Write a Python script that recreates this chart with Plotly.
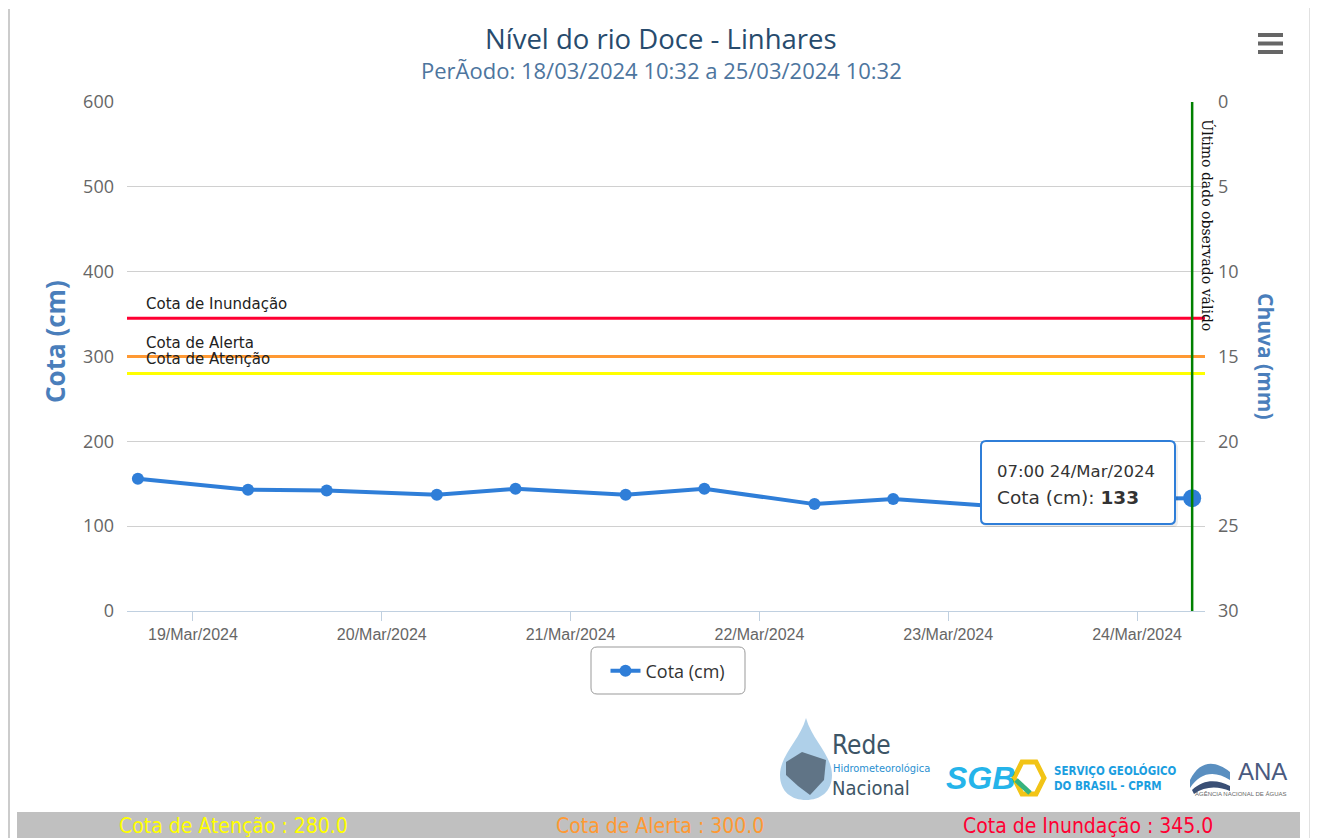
import plotly.graph_objects as go

# ---------------- data ----------------
times = ["2024-03-18 17:00", "2024-03-19 07:00", "2024-03-19 17:00", "2024-03-20 07:00",
         "2024-03-20 17:00", "2024-03-21 07:00", "2024-03-21 17:00", "2024-03-22 07:00",
         "2024-03-22 17:00", "2024-03-23 07:00", "2024-03-23 17:00", "2024-03-24 07:00"]
cota = [156, 143, 142, 137, 144, 137, 144, 126, 132, 123, 132, 133]

tick_dates = ["2024-03-19", "2024-03-20", "2024-03-21", "2024-03-22", "2024-03-23", "2024-03-24"]
x_range = ["2024-03-18 15:37", "2024-03-24 08:38"]

threshold_names = ["Cota de Inundação", "Cota de Alerta", "Cota de Atenção"]
threshold_values = [345.0, 300.0, 280.0]
threshold_colors = ["#ff0033", "#ff9933", "#ffff00"]

ultimo_dado = "2024-03-24 07:00"
tooltip_time = "07:00 24/Mar/2024"

title = "Nível do rio Doce - Linhares"
subtitle = "PerÃodo: 18/03/2024 10:32 a 25/03/2024 10:32"

# ---------------- layout geometry ----------------
# page body has an 8px margin, so the figure is 8px smaller and all reference
# pixel positions are expressed in page coordinates through px()/py().
W, H = 1310, 830
L, R, T, B = 119, 113, 94, 227
PW, PH = W - L - R, H - T - B
OFF = 8


def px(x):
    return (x - OFF - L) / PW


def py(y):
    return (H - B - (y - OFF)) / PH


def rrect(x0, y0, x1, y1, r):
    rx, ry = r / PW, r / PH
    a, b, c, d = px(x0), px(x1), py(y0), py(y1)  # c top, d bottom
    return (f"M {a+rx} {c} L {b-rx} {c} Q {b} {c} {b} {c-ry} L {b} {d+ry} Q {b} {d} {b-rx} {d} "
            f"L {a+rx} {d} Q {a} {d} {a} {d+ry} L {a} {c-ry} Q {a} {c} {a+rx} {c} Z")


BLUE = "#2f7ed8"
AXT = "#4a7ebb"
COND = "DejaVu Sans Condensed, Liberation Sans Narrow, Roboto, sans-serif"

fig = go.Figure()

fig.add_trace(go.Scatter(
    x=times, y=cota, mode="lines+markers", name="Cota (cm)",
    line=dict(color=BLUE, width=4), marker=dict(color=BLUE, size=12),
    hoverinfo="skip"))
fig.add_trace(go.Scatter(
    x=[times[-1]], y=[cota[-1]], mode="markers", showlegend=False,
    marker=dict(color=BLUE, size=18), hoverinfo="skip"))
# rain axis (no data in the period)
fig.add_trace(go.Scatter(x=[times[0]], y=[None], yaxis="y2", showlegend=False,
                         hoverinfo="skip", mode="markers"))

shapes = []
annotations = []

# threshold lines + labels
for name, val, col in zip(threshold_names, threshold_values, threshold_colors):
    shapes.append(dict(type="line", xref="paper", x0=0, x1=1, yref="y", y0=val, y1=val,
                       line=dict(color=col, width=3), layer="above"))
    annotations.append(dict(xref="paper", x=px(144), yref="y", y=val, text=name,
                            showarrow=False, xanchor="left", yanchor="bottom", yshift=3,
                            font=dict(family="DejaVu Sans", size=15, color="#222")))

# last valid observation line
shapes.append(dict(type="line", xref="x", x0=ultimo_dado, x1=ultimo_dado, yref="paper",
                   y0=0, y1=1, line=dict(color="#008000", width=2.5), layer="above"))
annotations.append(dict(xref="x", x=ultimo_dado, yref="paper", y=py(117),
                        text="Último dado observado válido", textangle=90, showarrow=False,
                        xanchor="left", yanchor="top", xshift=5,
                        font=dict(family="DejaVu Serif", size=14, color="#111")))

# titles
annotations.append(dict(xref="paper", x=px(661), yref="paper", y=py(39), text=title,
                        showarrow=False, xanchor="center", yanchor="middle",
                        font=dict(family="Open Sans", size=27.5, color="#274b6d")))
annotations.append(dict(xref="paper", x=px(661), yref="paper", y=py(70), text=subtitle,
                        showarrow=False, xanchor="center", yanchor="middle",
                        font=dict(family="Open Sans", size=22, color="#4d759e")))
# cut heading at very top (only its lower part is visible)
annotations.append(dict(xref="paper", x=px(45), yref="paper", y=py(-2),
                        text="<b>b.  Nível do Rio Doce - Linhares</b>",
                        showarrow=False, xanchor="left", yanchor="middle",
                        font=dict(family="Liberation Sans", size=26, color="#111")))

# axis titles
annotations.append(dict(xref="paper", x=px(55), yref="paper", y=py(342), text="<b>Cota (cm)</b>",
                        textangle=-90, showarrow=False, xanchor="center", yanchor="middle",
                        font=dict(family="Open Sans", size=26, color=AXT)))
annotations.append(dict(xref="paper", x=px(1266), yref="paper", y=py(356), text="<b>Chuva (mm)</b>",
                        textangle=90, showarrow=False, xanchor="center", yanchor="middle",
                        font=dict(family="Open Sans", size=21, color=AXT)))

# tooltip box (rounded, with soft shadow) + text anchored to the last point
shapes.append(dict(type="path", xref="paper", yref="paper", path=rrect(983, 443, 1178, 527, 5),
                   fillcolor="rgba(0,0,0,0.07)", line=dict(width=0), layer="above"))
shapes.append(dict(type="path", xref="paper", yref="paper", path=rrect(981, 441, 1175, 524, 5),
                   fillcolor="white", line=dict(color=BLUE, width=2), layer="above"))
annotations.append(dict(xref="x", x=times[-1], yref="y", y=cota[-1], text=tooltip_time,
                        showarrow=False, xanchor="left", yanchor="middle", xshift=-197, yshift=27,
                        font=dict(family="DejaVu Sans", size=16.5, color="#333")))
annotations.append(dict(xref="x", x=times[-1], yref="y", y=cota[-1],
                        text="Cota (cm): <b>" + str(cota[-1]) + "</b>",
                        showarrow=False, xanchor="left", yanchor="middle", xshift=-197, yshift=1,
                        font=dict(family="DejaVu Sans", size=18.5, color="#333")))

# legend frame (rounded)
shapes.append(dict(type="path", xref="paper", yref="paper", path=rrect(591, 647, 745, 694, 6),
                   fillcolor="rgba(0,0,0,0)", line=dict(color="#999999", width=1)))

# hamburger menu
for yb in (35, 43.5, 52):
    shapes.append(dict(type="line", xref="paper", yref="paper", x0=px(1258), x1=px(1283),
                       y0=py(yb), y1=py(yb), line=dict(color="#666", width=4)))

# card borders
shapes.append(dict(type="line", xref="paper", yref="paper", x0=px(9), x1=px(9),
                   y0=py(9), y1=py(840), line=dict(color="#cccccc", width=2)))
shapes.append(dict(type="line", xref="paper", yref="paper", x0=px(1311), x1=px(1311),
                   y0=py(8), y1=py(840), line=dict(color="#c4c4c4", width=3)))

# bottom band
shapes.append(dict(type="rect", xref="paper", yref="paper", x0=px(17), x1=px(1300),
                   y0=py(812), y1=py(840), fillcolor="#c0c0c0", line=dict(width=0)))
band_centers = [1088, 660, 233]
for name, val, col, cx in zip(threshold_names, threshold_values, threshold_colors, band_centers):
    annotations.append(dict(xref="paper", x=px(cx), yref="paper", y=py(826),
                            text=f"{name} : {val:.1f}", showarrow=False,
                            xanchor="center", yanchor="middle",
                            font=dict(family=COND, size=21, color=col)))

# ---- logos (approximations) ----
drop = (f"M {px(806)} {py(718)} C {px(800)} {py(740)}, {px(780)} {py(755)}, {px(780)} {py(775)} "
        f"C {px(780)} {py(792)}, {px(792)} {py(800)}, {px(806)} {py(800)} "
        f"C {px(820)} {py(800)}, {px(832)} {py(792)}, {px(832)} {py(775)} "
        f"C {px(832)} {py(755)}, {px(812)} {py(740)}, {px(806)} {py(718)} Z")
shapes.append(dict(type="path", xref="paper", yref="paper", path=drop,
                   fillcolor="rgba(110,170,215,0.55)", line=dict(width=0)))
brasil = (f"M {px(786)} {py(762)} L {px(802)} {py(752)} L {px(826)} {py(760)} L {px(824)} {py(780)} "
          f"L {px(810)} {py(795)} L {px(798)} {py(786)} L {px(786)} {py(775)} Z")
shapes.append(dict(type="path", xref="paper", yref="paper", path=brasil,
                   fillcolor="rgba(70,85,100,0.75)", line=dict(width=0)))
annotations.append(dict(xref="paper", x=px(830), yref="paper", y=py(745), text="Rede",
                        showarrow=False, xanchor="left", yanchor="middle",
                        font=dict(family=COND, size=26, color="#3d5566")))
annotations.append(dict(xref="paper", x=px(831), yref="paper", y=py(768), text="Hidrometeorológica",
                        showarrow=False, xanchor="left", yanchor="middle",
                        font=dict(family=COND, size=11, color="#2a8fd0")))
annotations.append(dict(xref="paper", x=px(830), yref="paper", y=py(788), text="Nacional",
                        showarrow=False, xanchor="left", yanchor="middle",
                        font=dict(family=COND, size=20, color="#3d5566")))
# SGB
annotations.append(dict(xref="paper", x=px(944), yref="paper", y=py(778), text="<b><i>SGB</i></b>",
                        showarrow=False, xanchor="left", yanchor="middle",
                        font=dict(family="Liberation Sans", size=32, color="#25b4ea")))
hexa = (f"M {px(1022)} {py(762)} L {px(1036)} {py(762)} L {px(1044)} {py(778)} "
        f"L {px(1036)} {py(794)} L {px(1022)} {py(794)} L {px(1014)} {py(778)} Z")
shapes.append(dict(type="path", xref="paper", yref="paper", path=hexa,
                   fillcolor="rgba(0,0,0,0)", line=dict(color="#f2c416", width=5)))
shapes.append(dict(type="line", xref="paper", yref="paper", x0=px(1016), x1=px(1030),
                   y0=py(780), y1=py(793), line=dict(color="#36b37e", width=5)))
annotations.append(dict(xref="paper", x=px(1052), yref="paper", y=py(778),
                        text="<b>SERVIÇO GEOLÓGICO<br>DO BRASIL - CPRM</b>",
                        showarrow=False, xanchor="left", yanchor="middle", align="left",
                        font=dict(family=COND, size=11.5, color="#1b9ee0")))
# ANA
wave1 = (f"M {px(1190)} {py(780)} C {px(1200)} {py(760)}, {px(1215)} {py(760)}, {px(1230)} {py(772)} "
         f"L {px(1230)} {py(780)} C {px(1215)} {py(770)}, {px(1200)} {py(772)}, {px(1190)} {py(788)} Z")
shapes.append(dict(type="path", xref="paper", yref="paper", path=wave1,
                   fillcolor="#5a8fc0", line=dict(width=0)))
wave2 = (f"M {px(1192)} {py(790)} C {px(1205)} {py(778)}, {px(1218)} {py(780)}, {px(1230)} {py(786)} "
         f"L {px(1230)} {py(791)} C {px(1218)} {py(786)}, {px(1205)} {py(786)}, {px(1194)} {py(794)} Z")
shapes.append(dict(type="path", xref="paper", yref="paper", path=wave2,
                   fillcolor="#3a4f75", line=dict(width=0)))
annotations.append(dict(xref="paper", x=px(1236), yref="paper", y=py(771), text="ANA",
                        showarrow=False, xanchor="left", yanchor="middle",
                        font=dict(family="Liberation Sans", size=24, color="#4a5a80")))
annotations.append(dict(xref="paper", x=px(1240), yref="paper", y=py(793),
                        text="AGÊNCIA NACIONAL DE ÁGUAS", showarrow=False,
                        xanchor="center", yanchor="middle",
                        font=dict(family="Liberation Sans", size=6, color="#666")))

fig.update_layout(
    width=W, height=H,
    margin=dict(l=L, r=R, t=T, b=B, pad=0),
    paper_bgcolor="white", plot_bgcolor="white",
    showlegend=True,
    legend=dict(orientation="h", x=px(668), xanchor="center", y=py(671), yanchor="middle",
                borderwidth=0, bgcolor="rgba(0,0,0,0)",
                font=dict(family="Open Sans", size=18, color="#333")),
    xaxis=dict(type="date", range=x_range, tickvals=tick_dates, tickformat="%d/%b/%Y",
               ticks="outside", ticklen=9, tickcolor="#c0d0e0", showline=True,
               linecolor="#c0d0e0", linewidth=1, showgrid=False, zeroline=False,
               tickfont=dict(family="Liberation Sans", size=16, color="#666")),
    yaxis=dict(range=[0, 600], dtick=100, showgrid=True, gridcolor="#d0d0d0", gridwidth=1,
               zeroline=False, showline=False, ticks="", ticklabelstandoff=12,
               tickfont=dict(family="Open Sans", size=18, color="#666")),
    yaxis2=dict(range=[30, 0], dtick=5, overlaying="y", side="right", showgrid=False,
                zeroline=False, showline=False, ticks="", ticklabelstandoff=12,
                tickfont=dict(family="Open Sans", size=18, color="#666")),
    shapes=shapes, annotations=annotations,
)

fig.write_html("out.html")
